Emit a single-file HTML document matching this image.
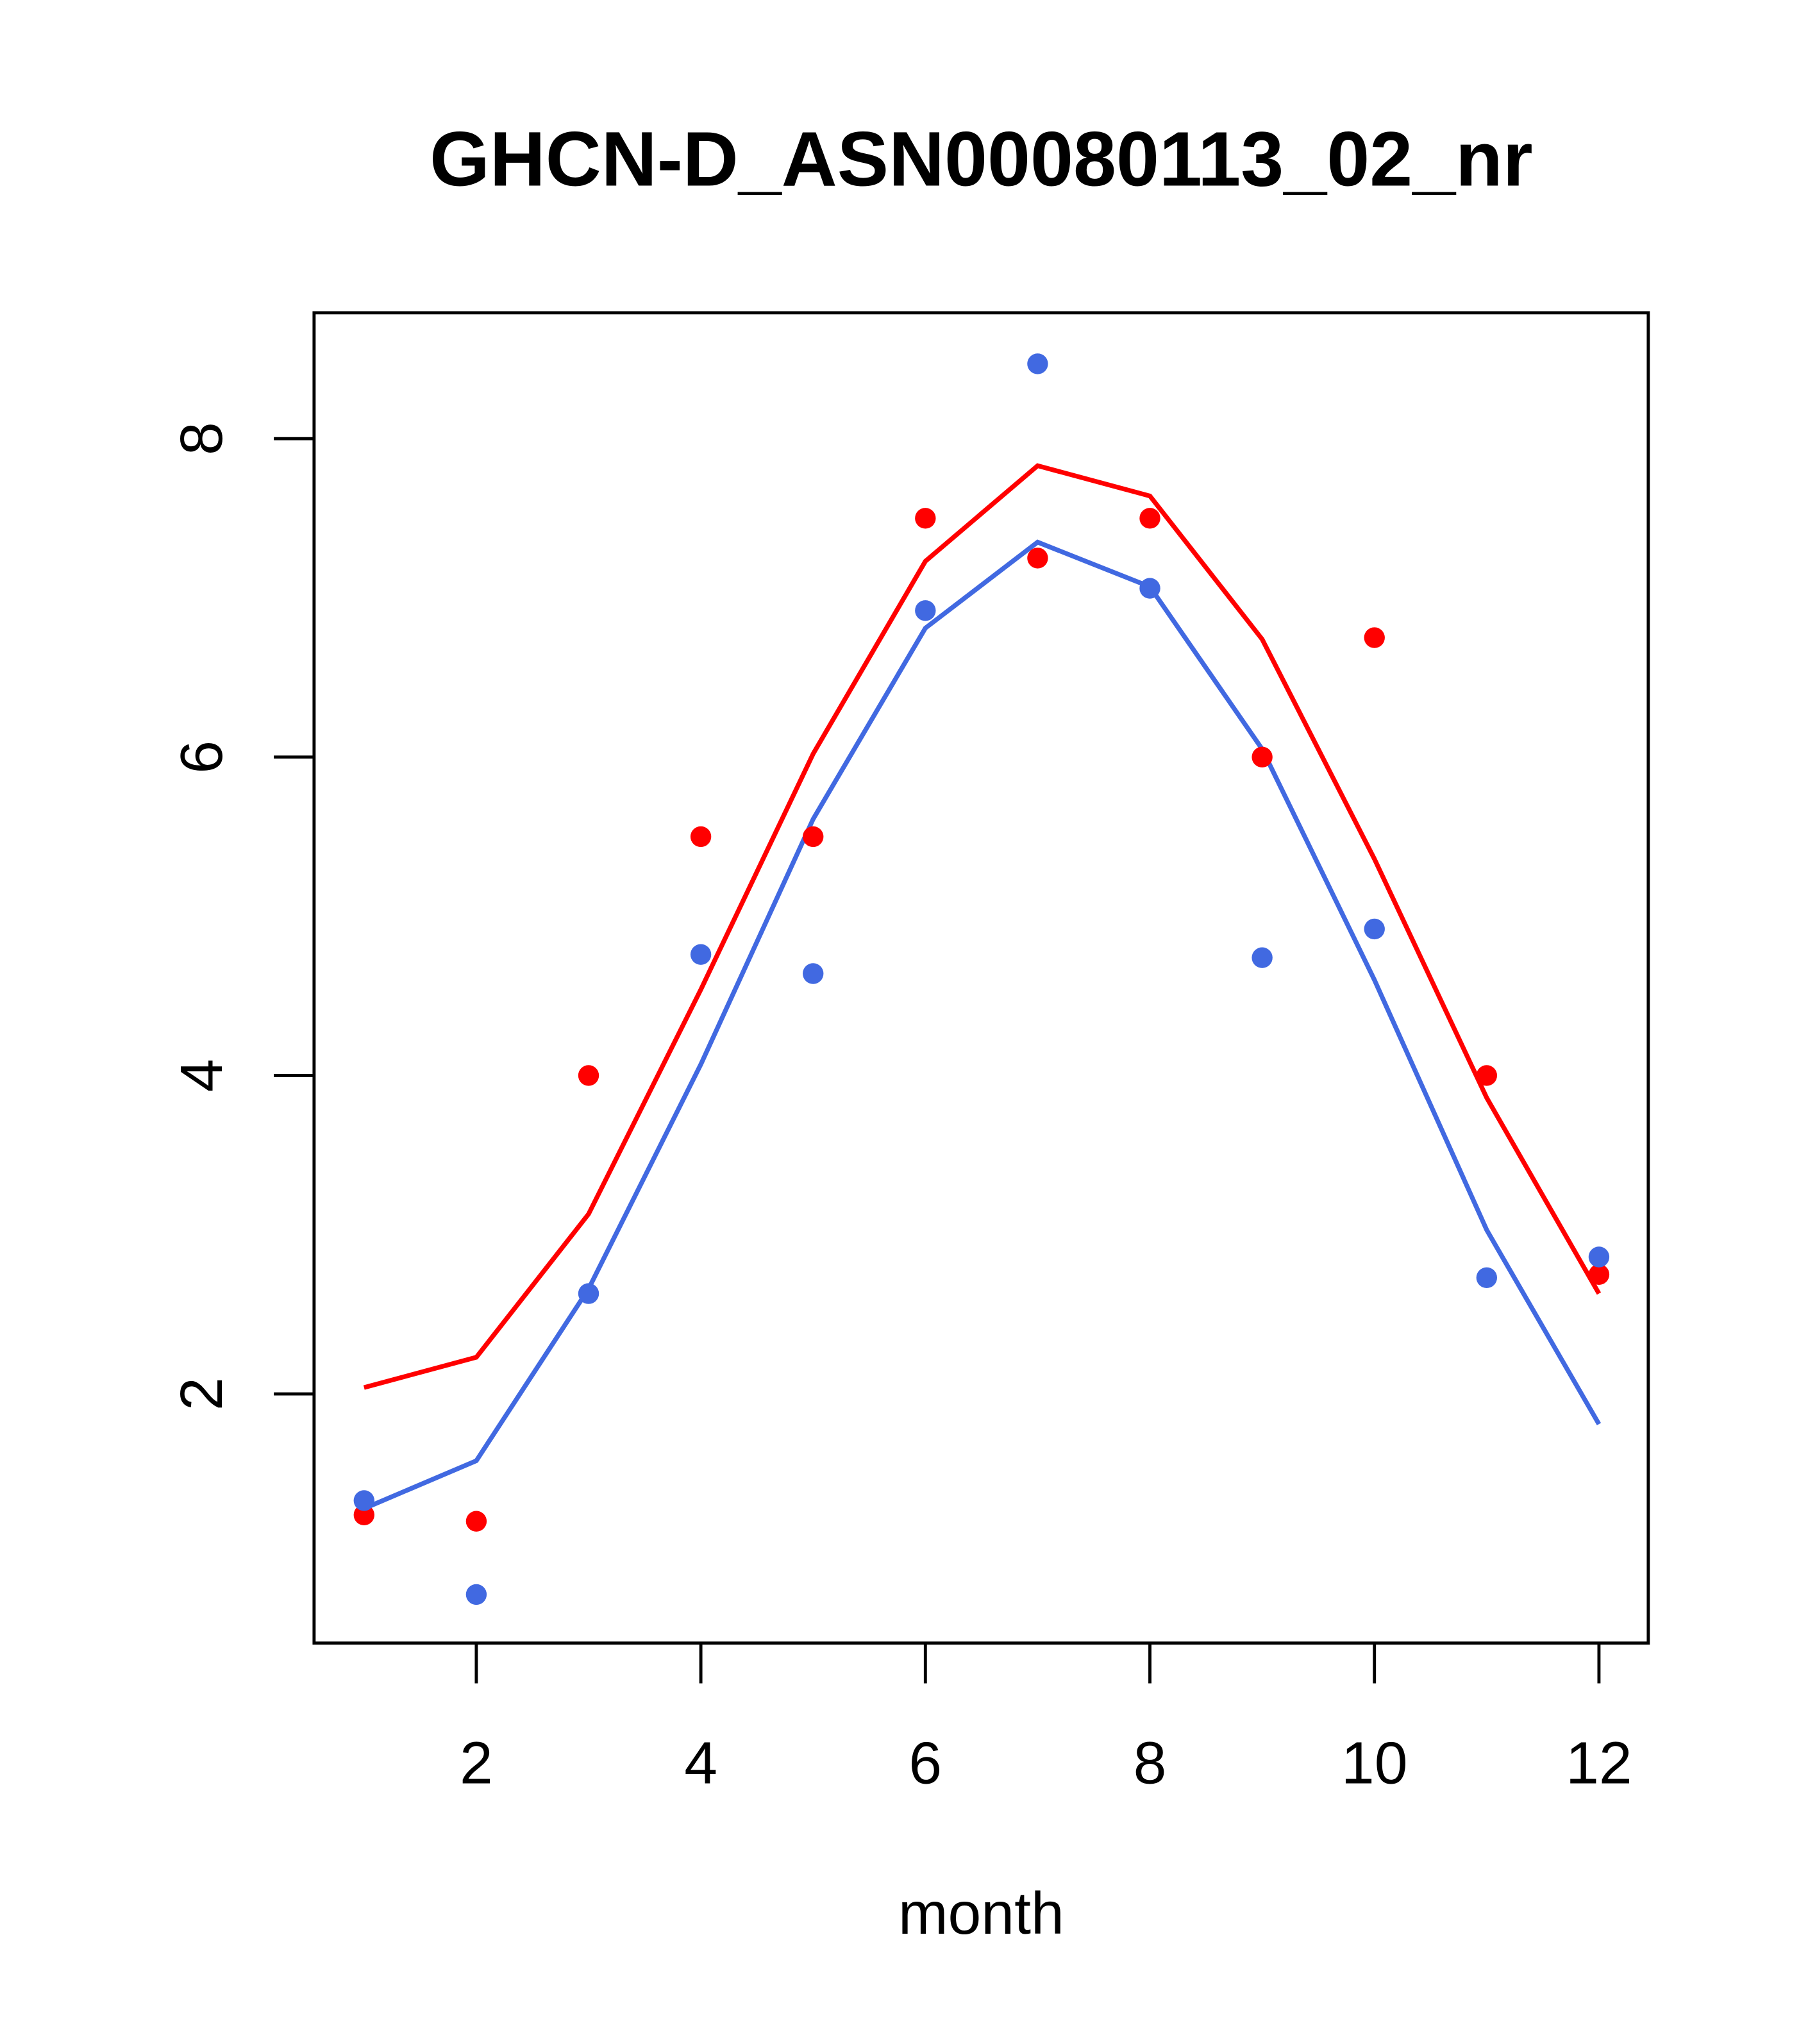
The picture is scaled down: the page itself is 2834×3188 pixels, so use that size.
<!DOCTYPE html>
<html><head><meta charset="utf-8"><style>
html,body{margin:0;padding:0;background:#fff;}
svg{display:block;}
text{font-family:"Liberation Sans",Arial,sans-serif;fill:#000;}
</style></head><body>
<svg id="chart" width="2834" height="3188" viewBox="0 0 1400 1574.9" preserveAspectRatio="none" xmlns="http://www.w3.org/2000/svg">
<rect x="0" y="0" width="1400" height="1575" fill="#fff"/>
<text x="756" y="143" text-anchor="middle" font-size="59.5" font-weight="bold">GHCN-D_ASN00080113_02_nr</text>
<rect x="242" y="241" width="1028" height="1025" fill="none" stroke="#000" stroke-width="2.4"/>
<text x="756" y="1490" text-anchor="middle" font-size="46">month</text>
<g id="xaxis"></g>
<g id="yaxis"></g>
<g id="series"></g>
</svg>
<script>
const months = [1,2,3,4,5,6,7,8,9,10,11,12];
const redPoints = [1.24,1.20,4.0,5.5,5.5,7.5,7.25,7.5,6.0,6.75,4.0,2.75];
const bluePoints = [1.33,0.74,2.63,4.76,4.64,6.92,8.47,7.06,4.74,4.92,2.73,2.86];
const redLine = [2.04,2.23,3.13,4.54,6.02,7.23,7.83,7.64,6.74,5.36,3.86,2.63];
const blueLine = [1.28,1.58,2.66,4.07,5.61,6.81,7.35,7.07,6.05,4.60,3.03,1.81];
const xTicks = [2,4,6,8,10,12];
const yTicks = [2,4,6,8];

const NS = "http://www.w3.org/2000/svg";
function xs(m){ return 367 + (m-2)*86.5; }
function ys(v){ return 1074 - (v-2)*122.67; }
function mk(tag, attrs, parent){
  const e = document.createElementNS(NS, tag);
  for (const k in attrs) e.setAttribute(k, attrs[k]);
  parent.appendChild(e);
  return e;
}
const xg = document.getElementById('xaxis');
const yg = document.getElementById('yaxis');
const sg = document.getElementById('series');

xTicks.forEach(t => {
  const l = mk('line', {x1:xs(t), x2:xs(t), y1:1266, y2:1297, stroke:'#000', 'stroke-width':2.4}, xg);
  
  
  const tx = mk('text', {x:xs(t), y:1374, 'text-anchor':'middle', 'font-size':46}, xg);
  tx.textContent = t;
  
  
});
yTicks.forEach(t => {
  const l = mk('line', {x1:211, x2:242, y1:ys(t), y2:ys(t), stroke:'#000', 'stroke-width':2.4}, yg);
  
  
  const tx = mk('text', {x:0, y:0, 'text-anchor':'middle', 'font-size':46, transform:'translate(171,'+ys(t)+') rotate(-90)'}, yg);
  tx.textContent = t;
  
  
});

function drawLine(vals, color, name){
  const pts = months.map((m,i) => xs(m)+','+ys(vals[i])).join(' ');
  const p = mk('polyline', {points:pts, fill:'none', stroke:color, 'stroke-width':3.6}, sg);
  
  
}
function drawPts(vals, color, name){
  months.forEach((m,i) => {
    const c = mk('circle', {cx:xs(m), cy:ys(vals[i]), r:8, fill:color}, sg);
    
    
  });
}
drawLine(redLine, '#ff0000', 'red-line');
drawLine(blueLine, '#4169e1', 'blue-line');
drawPts(redPoints, '#ff0000', 'red-point');
drawPts(bluePoints, '#4169e1', 'blue-point');
</script>
</body></html>
